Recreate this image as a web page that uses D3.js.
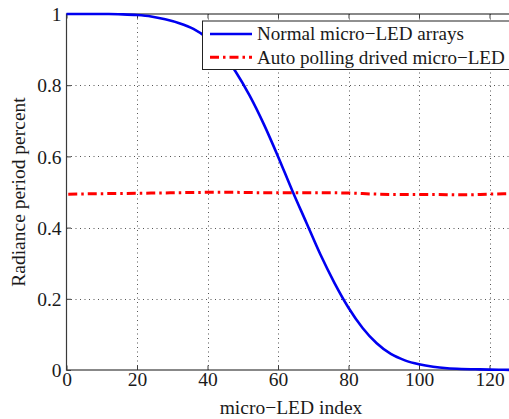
<!DOCTYPE html>
<html>
<head>
<meta charset="utf-8">
<script src="https://cdn.jsdelivr.net/npm/d3@7/dist/d3.min.js"></script>
<style>
  html, body { margin: 0; padding: 0; background: #fff; overflow: hidden; }
  svg { display: block; font-family: "Liberation Serif", "Times New Roman", serif; }
</style>
</head>
<body>
<svg id="chart" width="509" height="419"></svg>
<script>
// Micro-LED index positions and radiance period percent for the two driving schemes
const normalIndex = [0, 4, 8, 12, 16, 20, 24, 28, 32, 36, 40, 44, 48, 52, 56, 60, 64, 68, 72, 76, 80, 84, 88, 92, 96, 100, 104, 108, 112, 116, 120, 124, 128];
const normalValues = [1.0, 1.0, 1.0, 1.0, 0.999, 0.997, 0.993, 0.985, 0.974, 0.958, 0.932, 0.893, 0.838, 0.77, 0.69, 0.60, 0.505, 0.415, 0.325, 0.245, 0.175, 0.118, 0.075, 0.045, 0.027, 0.016, 0.009, 0.005, 0.003, 0.002, 0.001, 0.0005, 0.0];

const pollingIndex = [0.5, 8, 16, 24, 32, 40, 48, 56, 64, 72, 80, 88, 96, 104, 112, 120, 128];
const pollingValues = [0.494, 0.495, 0.496, 0.497, 0.498, 0.499, 0.499, 0.498, 0.498, 0.498, 0.497, 0.494, 0.493, 0.493, 0.492, 0.494, 0.496];

const xTicks = [0, 20, 40, 60, 80, 100, 120];
const yTicks = [0, 0.2, 0.4, 0.6, 0.8, 1];
const yTickLabels = ["0", "0.2", "0.4", "0.6", "0.8", "1"];

const seriesNames = ["Normal micro\u2212LED arrays", "Auto polling drived micro\u2212LED"];
const xTitle = "micro\u2212LED index";
const yTitle = "Radiance period percent";

const svg = d3.select("#chart");
const plotLeft = 66.5, plotRight = 517.7, plotTop = 14, plotBottom = 370;
const axisColor = "#3a3a3a";
const fontSize = 19.5;
const textColor = "#1a1a1a";

const x = d3.scaleLinear().domain([0, 128]).range([plotLeft, plotRight]);
const y = d3.scaleLinear().domain([0, 1]).range([plotBottom, plotTop]);

// dotted grid
const grid = svg.append("g").attr("stroke", "#555").attr("stroke-width", 1)
  .attr("stroke-dasharray", "1,3.5");
grid.selectAll("line.vx").data(xTicks.filter(d => d > 0)).enter().append("line")
  .attr("x1", d => Math.round(x(d)) + 0.5).attr("x2", d => Math.round(x(d)) + 0.5)
  .attr("y1", plotTop).attr("y2", plotBottom);
grid.selectAll("line.hy").data(yTicks.filter(d => d > 0 && d < 1)).enter().append("line")
  .attr("y1", d => Math.round(y(d)) + 0.5).attr("y2", d => Math.round(y(d)) + 0.5)
  .attr("x1", plotLeft).attr("x2", plotRight);

// box frame
svg.append("rect").attr("x", plotLeft).attr("y", plotTop)
  .attr("width", plotRight - plotLeft).attr("height", plotBottom - plotTop)
  .attr("fill", "none").attr("stroke", axisColor).attr("stroke-width", 1.2);

// axes with inward ticks, labels drawn below/left
const xAxis = d3.axisBottom(x).tickValues(xTicks).tickSize(-4.5).tickPadding(2).tickFormat(d3.format("d"));
const gx = svg.append("g").attr("transform", `translate(0,${plotBottom})`).call(xAxis);
const xAxisTop = d3.axisTop(x).tickValues(xTicks).tickSize(-4.5).tickFormat("");
const gxt = svg.append("g").attr("transform", `translate(0,${plotTop})`).call(xAxisTop);
const yAxis = d3.axisLeft(y).tickValues(yTicks).tickSize(-4.5).tickPadding(5)
  .tickFormat((d, i) => yTickLabels[i]);
const gy = svg.append("g").attr("transform", `translate(${plotLeft},0)`).call(yAxis);

[gx, gxt, gy].forEach(g => {
  g.select(".domain").remove();
  g.selectAll(".tick line").attr("stroke", axisColor).attr("stroke-width", 1);
  g.selectAll(".tick text").attr("fill", textColor).style("font-size", fontSize + "px")
    .style("font-family", "'Liberation Serif', 'Times New Roman', serif");
});
gy.selectAll(".tick text").attr("dy", "0.34em");

// axis titles
svg.append("text").attr("x", 291).attr("y", 414)
  .attr("text-anchor", "middle").attr("fill", textColor).style("font-size", fontSize + "px")
  .text(xTitle);
svg.append("text").attr("transform", `translate(25,${(plotTop + plotBottom) / 2}) rotate(-90)`)
  .attr("text-anchor", "middle").attr("fill", textColor).style("font-size", fontSize + "px")
  .text(yTitle);

// series lines
const line = d3.line().x(d => x(d[0])).y(d => y(d[1])).curve(d3.curveMonotoneX);
svg.append("path").datum(pollingIndex.map((d, i) => [d, pollingValues[i]]))
  .attr("d", line).attr("fill", "none").attr("stroke", "#ff0000").attr("stroke-width", 3)
  .attr("stroke-dasharray", "9,4,2.5,4");
svg.append("path").datum(normalIndex.map((d, i) => [d, normalValues[i]]))
  .attr("d", line).attr("fill", "none").attr("stroke", "#0000f0").attr("stroke-width", 2.6)
  .attr("stroke-linejoin", "round");

// legend
const lg = svg.append("g");
lg.append("rect").attr("x", 202.5).attr("y", 21).attr("width", 310).attr("height", 48.5)
  .attr("fill", "#fff").attr("stroke", "#222").attr("stroke-width", 1);
const legendRows = [
  { name: seriesNames[0], color: "#0000f0", dash: null, w: 2.6, y: 34 },
  { name: seriesNames[1], color: "#ff0000", dash: "9,4,2.5,4", w: 3, y: 57.3 }
];
legendRows.forEach(r => {
  lg.append("line").attr("x1", 210).attr("x2", 252).attr("y1", r.y).attr("y2", r.y)
    .attr("stroke", r.color).attr("stroke-width", r.w)
    .attr("stroke-dasharray", r.dash);
  lg.append("text").attr("x", 257).attr("y", r.y).attr("dy", "0.33em")
    .attr("fill", textColor).style("font-size", "19.1px").text(r.name);
});
</script>
</body>
</html>
